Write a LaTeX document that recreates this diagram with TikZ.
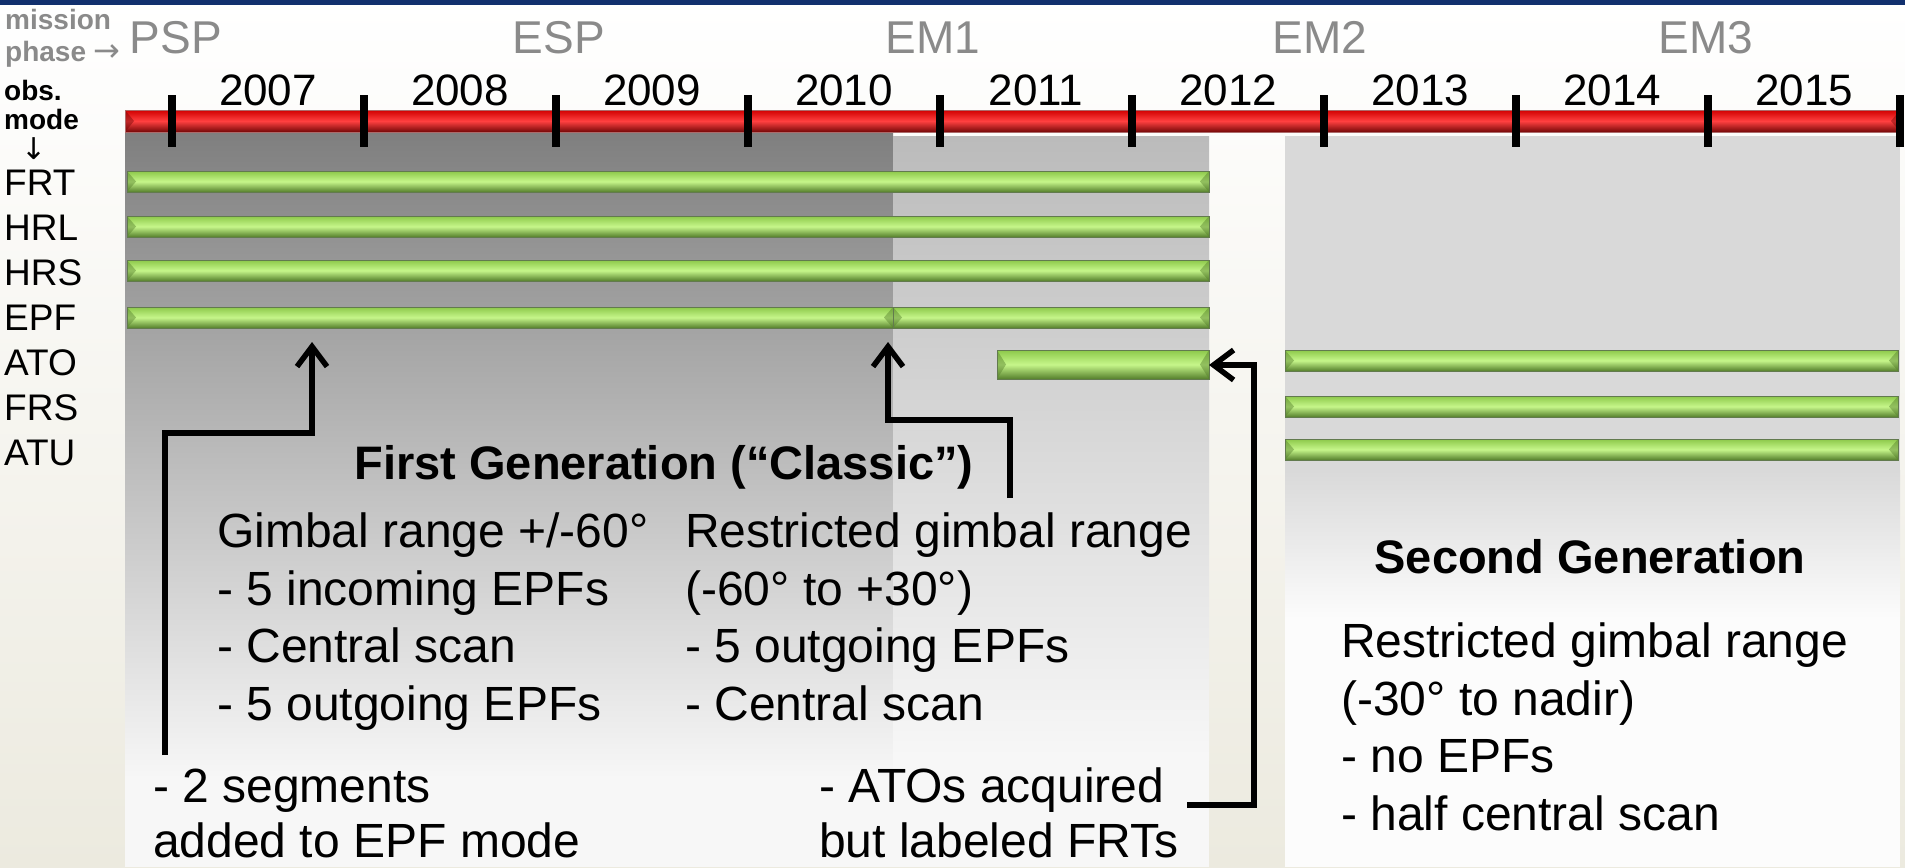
\documentclass[tikz,border=0pt]{standalone}
\usepackage{fontspec}
\setmainfont{Liberation Sans}
\newfontfamily\arrowfont{DejaVu Sans}
\usetikzlibrary{arrows.meta}

\definecolor{navyband}{HTML}{12306E}
\definecolor{paper}{HTML}{ECEADF}
\definecolor{phasegray}{HTML}{8A8A8A}
\definecolor{darkzone}{HTML}{7F7F7F}
\definecolor{lightzone}{HTML}{BBBBBB}
\definecolor{newzone}{HTML}{D9D9D9}
\definecolor{barhi}{HTML}{C6F68A}
\definecolor{bartop}{HTML}{8CC84A}
\definecolor{barlow}{HTML}{557F2C}
\definecolor{barline}{HTML}{627A4E}
\definecolor{redhi}{HTML}{FF4040}
\definecolor{redtop}{HTML}{D00000}
\definecolor{redlow}{HTML}{740808}

\tikzset{
  bevel/.style={path picture={
    \fill[#1, opacity=.45] (path picture bounding box.north west) -- (path picture bounding box.south west)
      -- ([xshift=9pt]path picture bounding box.west) -- cycle;
    \fill[#1, opacity=.45] (path picture bounding box.north east) -- (path picture bounding box.south east)
      -- ([xshift=-9pt]path picture bounding box.east) -- cycle;}},
  modebar/.style={draw=barline, line width=1, top color=bartop, bottom color=barlow, middle color=barhi, bevel=barlow},
  timebar/.style={draw=redlow!60, line width=1, top color=redtop, bottom color=redlow, middle color=redhi, bevel=redlow},
  yeartick/.style={line width=7.5},
  callout/.style={line width=5.5, -{Straight Barb[length=20pt,width=30pt]}},
  phaselab/.style={font=\fontsize{46}{50}\selectfont, text=phasegray, inner sep=0, anchor=base},
  yearlab/.style={font=\fontsize{44}{48}\selectfont, inner sep=0, anchor=base},
  keylab/.style={font=\bfseries\fontsize{28}{30}\selectfont, inner sep=0, anchor=base west},
  rowlab/.style={font=\fontsize{37}{40}\selectfont, inner sep=0, anchor=base west},
  headtxt/.style={font=\bfseries\fontsize{47}{57.5}\selectfont, inner sep=0, anchor=base},
  % multi-line texts sit on the baseline of their last line
  bodytxt/.style={font=\fontsize{48}{57.5}\selectfont, align=left, inner sep=0, anchor=base west},
  notetxt/.style={font=\fontsize{48}{55}\selectfont, align=left, inner sep=0, anchor=base west}
}

\begin{document}
\begin{tikzpicture}[x=1pt,y=-1pt]
\useasboundingbox (0,0) rectangle (1905,867);
% backdrop
\fill[top color=white, bottom color=paper] (0,0) rectangle (1905,867);
\fill[navyband] (0,0) rectangle (1905,5);
% first generation (dark part, then restricted part)
\fill[top color=darkzone, bottom color=white!97!black] (125,132) rectangle (893,780);
\fill[white!97!black] (125,780) rectangle (893,867);
\fill[top color=lightzone, bottom color=white!97!black] (893,136) rectangle (1209,760);
\fill[white!97!black] (893,760) rectangle (1209,867);
% second generation
\fill[newzone] (1285,136) rectangle (1900,470);
\fill[top color=newzone, bottom color=white!99!black] (1285,470) rectangle (1900,620);
\fill[white!99!black] (1285,620) rectangle (1900,867);

% time line
\draw[timebar] (125,110) rectangle (1900,132);
\foreach \k in {0,...,9}
  \draw[yeartick] ({172+192*\k},95) -- ++(0,52);
\foreach \yr [count=\k from 0] in {2007,...,2015}
  \node[yearlab] (yr\yr) at ({268+192*\k},105) {\yr};

% mission phases
\node[phaselab] (psp) at (176,53) {PSP};
\node[phaselab] (esp) at (559,53) {ESP};
\node[phaselab] (em1) at (933,53) {EM1};
\node[phaselab] (em2) at (1320,53) {EM2};
\node[phaselab] (em3) at (1706,53) {EM3};

% key at the left
\node[keylab, text=phasegray] (mission) at (5,30) {mission};
\node[keylab, text=phasegray] (phase) at (5,62) {phase {\arrowfont\mdseries\fontsize{32}{30}\selectfont →}};
\node[keylab] (obs) at (4,100) {obs.};
\node[keylab] (mode) at (4,129) {mode};
\node[font=\arrowfont\fontsize{30}{32}\selectfont, inner sep=0, anchor=north] (down) at (34,137) {↓};
\foreach \lab [count=\i from 0] in {FRT,HRL,HRS,EPF,ATO,FRS,ATU}
  \node[rowlab] (row\lab) at (4,{195+45*\i}) {\lab};

% observation modes
\foreach \y in {171,216,260}
  \draw[modebar] (127,\y) rectangle (1209,{\y+21});
\draw[modebar] (127,307) rectangle (893,328);
\draw[modebar] (893,307) rectangle (1209,328);
\draw[modebar] (997,350) rectangle (1209,379);
\foreach \y in {350,396,439}
  \draw[modebar] (1285,\y) rectangle (1898,{\y+21});

% texts
\node[headtxt] (gen1) at (664,479) {First Generation (“Classic”)};
\node[bodytxt] (gen1a) at (217,720) {Gimbal range +/-60°\\- 5 incoming EPFs\\- Central scan\\- 5 outgoing EPFs};
\node[bodytxt] (gen1b) at (685,720) {Restricted gimbal range\\(-60° to +30°)\\- 5 outgoing EPFs\\- Central scan};
\node[headtxt] (gen2) at (1590,573) {Second Generation};
\node[bodytxt] (gen2a) at (1341,830) {Restricted gimbal range\\(-30° to nadir)\\- no EPFs\\- half central scan};
\node[notetxt] (segnote) at (153,857) {- 2 segments\\added to EPF mode};
\node[notetxt] (atonote) at (819,857) {- ATOs acquired\\but labeled FRTs};

% call-outs
\coordinate (segfoot) at (165,755);
\coordinate (segtip) at (312,342);
\coordinate (gimfoot) at (1010,498);
\coordinate (gimtip) at (888,342);
\coordinate (atofoot) at (1187,805);
\coordinate (atotip) at (1209,365);
\draw[callout] (segfoot) -- ++(0,-322) -| (segtip);
\draw[callout] (gimfoot) -- ++(0,-78) -| (gimtip);
\draw[callout] (atofoot) -- ++(67,0) |- (atotip);
\end{tikzpicture}
\end{document}
